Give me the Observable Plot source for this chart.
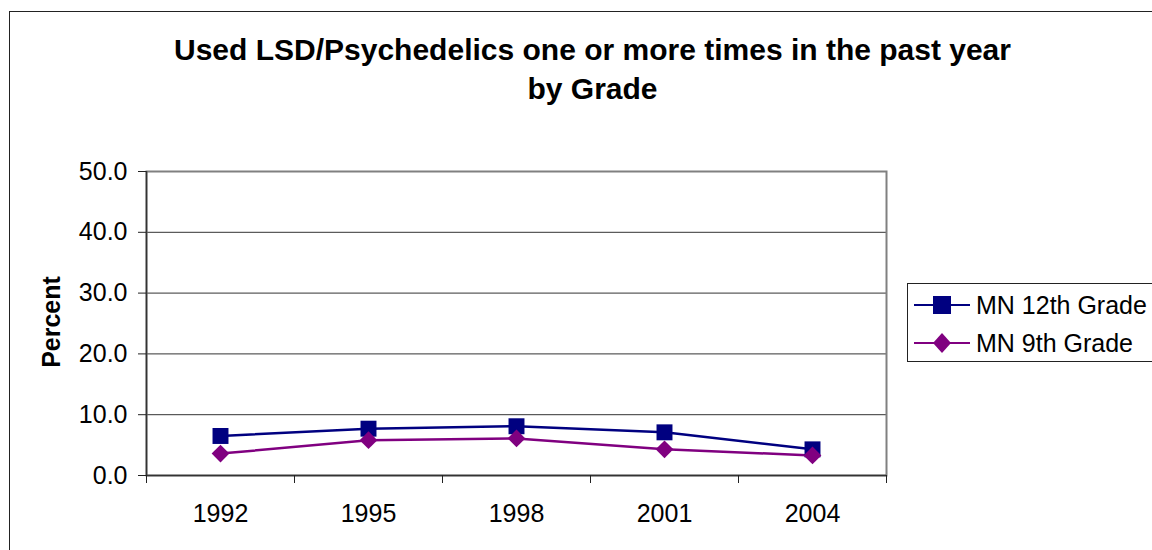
<!DOCTYPE html>
<html>
<head>
<meta charset="utf-8">
<script src="https://cdn.jsdelivr.net/npm/d3@7"></script>
<script src="https://cdn.jsdelivr.net/npm/@observablehq/plot@0.6"></script>
<style>
  body { margin: 0; background: #fff; font-family: "Liberation Sans", Arial, sans-serif; color: #000; }
  #wrap { position: relative; width: 1152px; height: 550px; overflow: hidden; background: #fff; }
  #border { position: absolute; left: 9px; top: 11px; width: 1300px; height: 700px; border: 1px solid #222; box-sizing: border-box; }
  #chart { position: absolute; left: 0; top: 0; }
  #title { position: absolute; left: 0; top: 30px; width: 1185px; text-align: center; font-weight: bold; font-size: 30px; line-height: 39px; white-space: nowrap; }
  #ylabel { position: absolute; left: 51px; top: 322px; transform: translate(-50%, -50%) rotate(-90deg); font-weight: bold; font-size: 25px; white-space: nowrap; }
  #legend { position: absolute; left: 907px; top: 283px; width: 300px; height: 79px; border: 1px solid #222; box-sizing: border-box; background: #fff; }
  .row { position: absolute; left: 6px; height: 30px; display: flex; align-items: center; }
  .row svg { display: block; }
  .row span { margin-left: 6px; font-size: 25px; line-height: 30px; white-space: nowrap; }
</style>
</head>
<body>
<div id="wrap">
  <div id="border"></div>
  <div id="chart"></div>
  <div id="title"></div>
  <div id="ylabel"></div>
  <div id="legend"></div>
</div>
<script>
const titleLines = ["Used LSD/Psychedelics one or more times in the past year", "by Grade"];
const yLabel = "Percent";
const years = ["1992", "1995", "1998", "2001", "2004"];
const grade12 = [6.5, 7.7, 8.1, 7.1, 4.3];
const grade9 = [3.6, 5.8, 6.1, 4.3, 3.3];
const yTicks = [0, 10, 20, 30, 40, 50];
const seriesNames = ["MN 12th Grade", "MN 9th Grade"];
const seriesColors = ["#000080", "#800080"];
const seriesSymbols = ["square", "diamond2"];

const idx = years.map((_, i) => i);
const boundaries = d3.range(-0.5, years.length, 1);
const rows12 = years.map((yr, i) => ({i, year: yr, value: grade12[i]}));
const rows9 = years.map((yr, i) => ({i, year: yr, value: grade9[i]}));

const chart = Plot.plot({
  width: 1152,
  height: 550,
  marginLeft: 146,
  marginRight: 266,
  marginTop: 171,
  marginBottom: 75,
  style: {fontSize: "25px", fontFamily: "'Liberation Sans', Arial, sans-serif", color: "#000", background: "transparent", overflow: "visible"},
  x: {domain: [-0.5, years.length - 0.5], axis: null},
  y: {domain: [0, 50], axis: null},
  marks: [
    Plot.ruleY(yTicks.filter(t => t > 0 && t < 50), {stroke: "#333", strokeWidth: 1}),
    Plot.frame({stroke: "#808080", strokeWidth: 2}),
    Plot.ruleY([0], {stroke: "#333", strokeWidth: 1.5}),
    Plot.ruleX([-0.5], {stroke: "#333", strokeWidth: 1.5}),
    Plot.axisY({ticks: yTicks, tickFormat: d => d.toFixed(1), tickSize: 8, tickPadding: 11, label: null, stroke: "#222", fill: "#000"}),
    Plot.axisX({ticks: boundaries, tickSize: 8, tickFormat: () => "", label: null, stroke: "#222"}),
    Plot.axisX({ticks: idx, tickSize: 0, tickPadding: 29, tickFormat: i => years[i], label: null, fill: "#000"}),
    Plot.line(rows12, {x: "i", y: "value", stroke: seriesColors[0], strokeWidth: 2.5}),
    Plot.line(rows9, {x: "i", y: "value", stroke: seriesColors[1], strokeWidth: 2.5}),
    Plot.dot(rows12, {x: "i", y: "value", symbol: seriesSymbols[0], r: 9, fill: seriesColors[0], stroke: null}),
    Plot.dot(rows9, {x: "i", y: "value", symbol: seriesSymbols[1], r: 8, fill: seriesColors[1], stroke: null})
  ]
});
document.getElementById("chart").appendChild(chart);

document.getElementById("title").innerHTML = titleLines.map(t => `<div>${t}</div>`).join("");
document.getElementById("ylabel").textContent = yLabel;

const legend = document.getElementById("legend");
seriesNames.forEach((name, k) => {
  const row = document.createElement("div");
  row.className = "row";
  row.style.top = (k === 0 ? 6 : 44) + "px";
  const sym = k === 0
    ? `<rect x="19" y="6" width="18" height="18" fill="${seriesColors[k]}"/>`
    : `<path d="M28,5 L37,15 L28,25 L19,15 Z" fill="${seriesColors[k]}"/>`;
  row.innerHTML = `<svg width="56" height="30"><line x1="0" x2="56" y1="15" y2="15" stroke="${seriesColors[k]}" stroke-width="2"/>${sym}</svg><span>${name}</span>`;
  legend.appendChild(row);
});
</script>
</body>
</html>
